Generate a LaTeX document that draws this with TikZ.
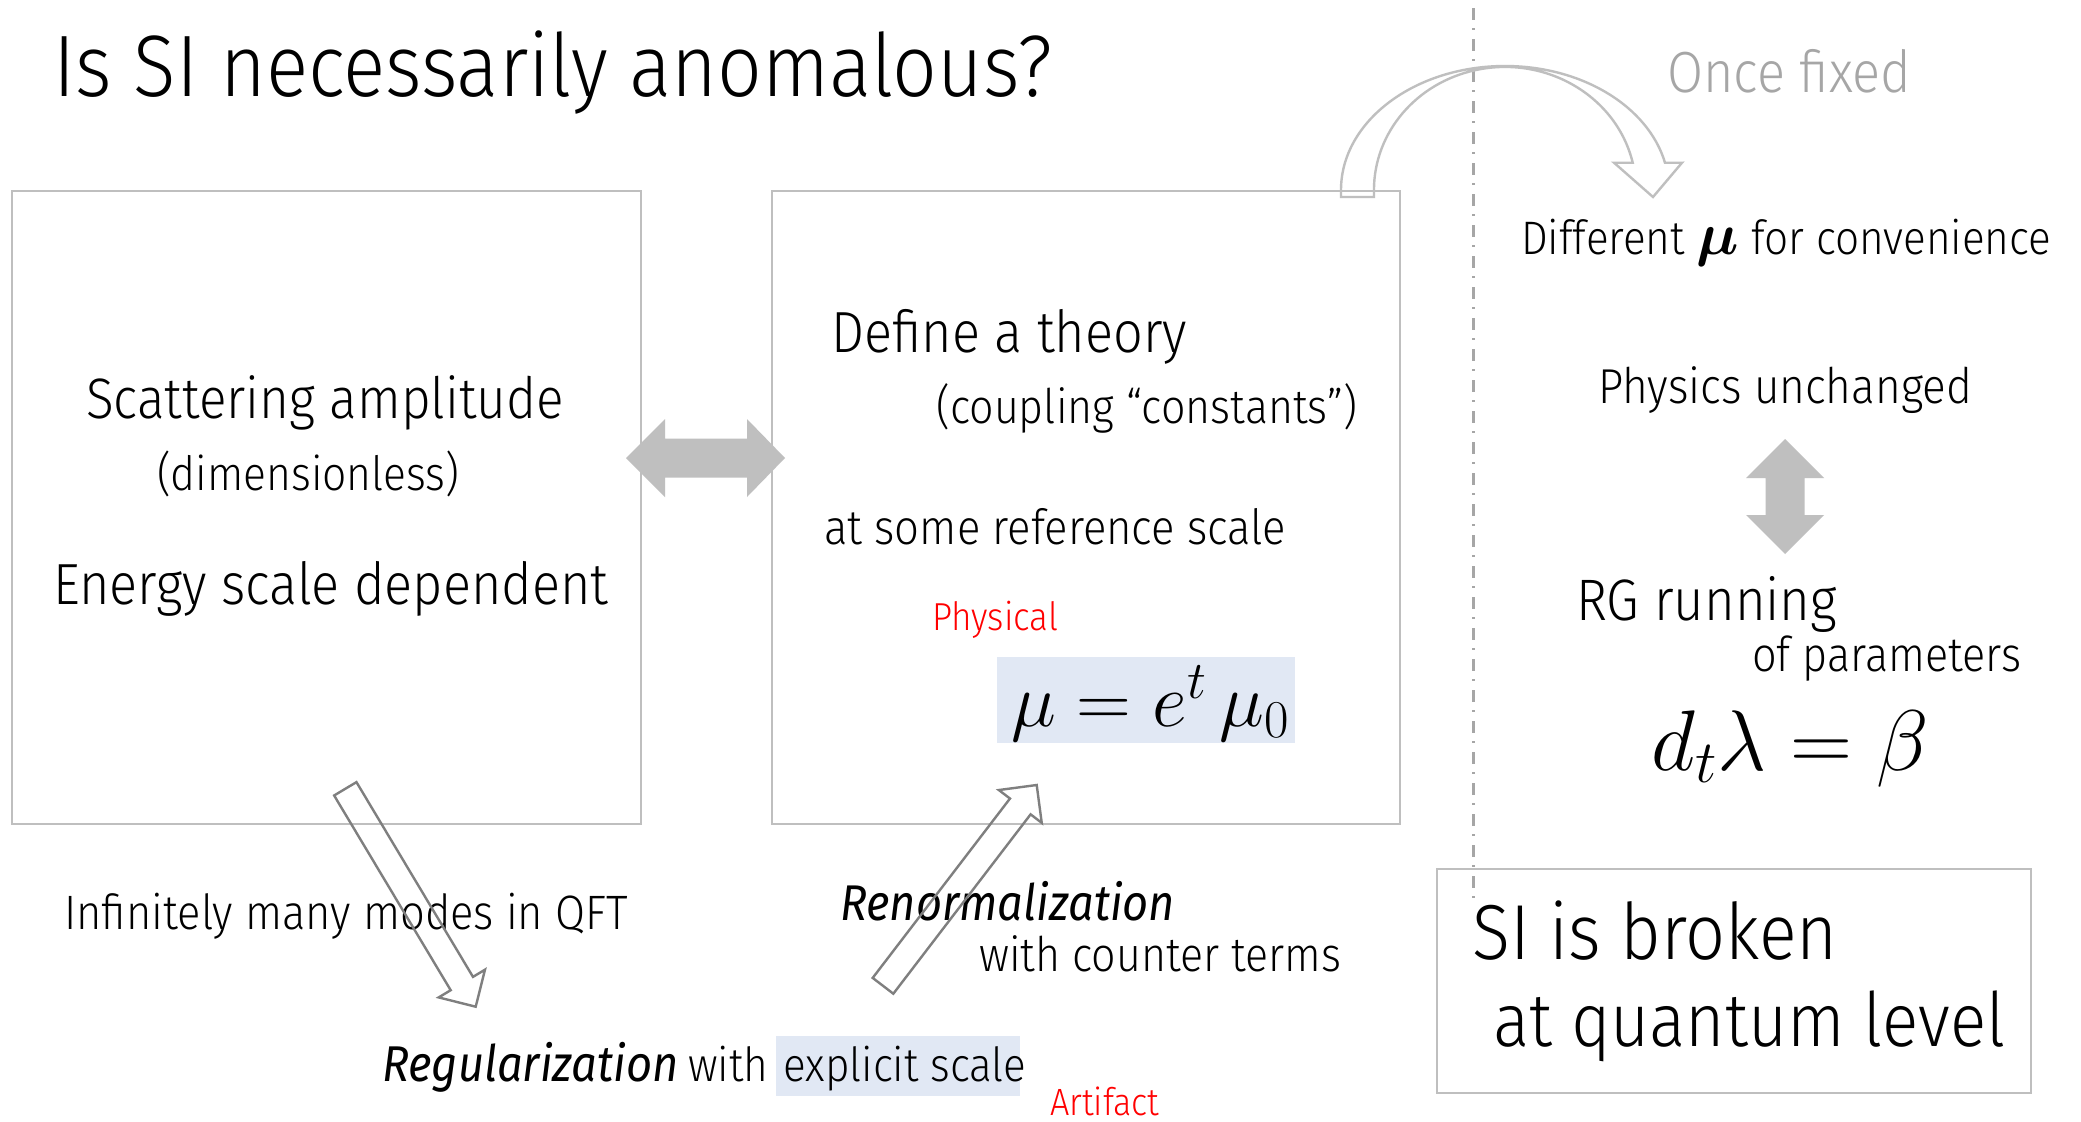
\RequirePackage{fix-cm}
\documentclass[tikz,border=0pt]{standalone}
\usepackage{amsmath}
\usepackage[no-math]{fontspec}
\setmainfont{Fira Sans Light}[FakeStretch=0.9]
\newfontfamily\strongfont{Fira Sans}[FakeStretch=0.9]
\usetikzlibrary{calc}
\definecolor{frame}{HTML}{BFBFBF}
\definecolor{arrowline}{HTML}{7F7F7F}
\definecolor{dashline}{HTML}{A6A6A6}
\definecolor{softtext}{HTML}{A6A6A6}
\definecolor{hilite}{RGB}{225,232,244}
\definecolor{alert}{HTML}{FF0000}
\newcommand\fsz[1]{\fontsize{#1}{#1}\selectfont}
% hollow straight arrow from tail #1 to tip #2; #3 names the head base
\newcommand\hollowarrow[3]{%
  \coordinate (#3) at ($(#2)!27pt!(#1)$);
  \draw[hollow] ($(#1)!13pt!90:(#2)$) -- ($(#3)!13pt!90:(#2)$)
    -- ($(#3)!27pt!90:(#2)$) -- (#2) -- ($(#3)!27pt!-90:(#2)$)
    -- ($(#3)!13pt!-90:(#2)$) -- ($(#1)!13pt!-90:(#2)$) -- cycle;}
\begin{document}
\begin{tikzpicture}[x=1pt,y=-1pt,
  panel/.style={draw=frame, line width=2.2pt, inner sep=0pt, anchor=north west},
  txt/.style={anchor=base west, inner sep=0pt},
  hollow/.style={draw=arrowline, line width=2.4pt, line join=miter},
  block/.style={fill=frame, draw=none},
  curved/.style={draw=frame, line width=2.4pt, line join=miter},
]
\useasboundingbox[fill=white] (0,0) rectangle (2081,1122);

% title
\node[txt] (title) at (53,96) {\fsz{87.3}Is SI necessarily anomalous?};

% the two main panels
\node[panel, minimum width=629pt, minimum height=633pt] (amp) at (11,190) {};
\node[panel, minimum width=628pt, minimum height=633pt] (def) at (771,190) {};

% left panel text
\node[txt] (scat) at (86,418) {\fsz{57}Scattering amplitude};
\node[txt] (dimless) at (157,490) {\fsz{47.3}(dimensionless)};
\node[txt] (energy) at (53,604) {\fsz{58}Energy scale dependent};

% middle panel text
\node[txt] (theory) at (831,352) {\fsz{58}Define a theory};
\node[txt] (coupl) at (936,423) {\fsz{47.7}(coupling “constants”)};
\node[txt] (refsc) at (824,544) {\fsz{48.5}at some reference scale};
\node[txt, text=alert] (phys) at (932,630) {\fsz{39}Physical};
\node[fill=hilite, inner sep=0pt, anchor=north west, minimum width=298pt, minimum height=86pt] (mubox) at (997,657) {};
\node[anchor=base, inner sep=0pt] (mueq) at (1150,726) {\fsz{76}$\mu = e^{t}\,\mu_0$};

% block double arrow between the panels
\path[block] (626,458) -- (665,419) -- (665,438.5) -- (747,438.5) -- (747,419)
  -- (785,458) -- (747,497) -- (747,477.5) -- (665,477.5) -- (665,497) -- cycle;

% lower texts
\node[txt] (modes) at (64,929) {\fsz{48.3}Infinitely many modes in QFT};
\node[txt] (renorm) at (840,920) {\fsz{50.2}\strongfont\itshape Renormalization};
\node[txt] (counter) at (979,971) {\fsz{47.7}with counter terms};
\node[fill=hilite, inner sep=0pt, anchor=north west, minimum width=244pt, minimum height=60pt] (scalebox) at (776,1036) {};
\node[txt] (regul) at (382,1081) {\fsz{50.3}\strongfont\itshape Regularization};
\node[txt] (with) at (688,1081) {\fsz{47}with};
\node[txt] (expl) at (783,1081) {\fsz{47}explicit scale};
\node[txt, text=alert] (artif) at (1050,1115) {\fsz{38}Artifact};

% hollow arrows
\coordinate (regtail) at (345.3,788.8);
\coordinate (regtip) at (475.7,1006.7);
\hollowarrow{regtail}{regtip}{reghead}
\coordinate (rentail) at (883,985.8);
\coordinate (rentip) at (1036.7,785);
\hollowarrow{rentail}{rentip}{renhead}

% dash-dot separator
\draw[dashline, line width=3pt, dash pattern=on 12pt off 8pt on 2pt off 9pt] (1473,8) coordinate (septop) -- (1473,899) coordinate (sepbot);

% curved arrow leaving the middle panel
\draw[curved] (1341,197) -- (1341,190)
  arc[start angle=180, end angle=12.7, x radius=164pt, y radius=124pt]
  -- (1682,162.7) -- (1653,197) -- (1614,162.7) -- (1632.7,162.7)
  arc[start angle=12.8, end angle=180, x radius=131pt, y radius=123pt]
  -- (1374,197) -- cycle;

% right column
\node[txt, text=softtext] (fixed) at (1667,92) {\fsz{58}Once fixed};
\node[txt] (diff) at (1521,254) {\fsz{47}Different {\fsz{60}$\boldsymbol{\mu}$} for convenience};
\node[txt] (unch) at (1598,403) {\fsz{49}Physics unchanged};
\path[block] (1785,439) -- (1824,478) -- (1804.5,478) -- (1804.5,515) -- (1824,515)
  -- (1785,554) -- (1746,515) -- (1765.5,515) -- (1765.5,478) -- (1746,478) -- cycle;
\node[txt] (rg) at (1576,620) {\fsz{58.5}RG running};
\node[txt] (params) at (1752,671) {\fsz{48}of parameters};
\node[anchor=base, inner sep=0pt] (beta) at (1790,770) {\fsz{86}$d_t\lambda = \beta$};

% conclusion panel
\node[panel, minimum width=594pt, minimum height=224pt] (concl) at (1436,868) {};
\node[txt] (broken) at (1472,959) {\fsz{78}SI is broken};
\node[txt] (qlevel) at (1493,1046) {\fsz{75}at quantum level};
\end{tikzpicture}
\end{document}
